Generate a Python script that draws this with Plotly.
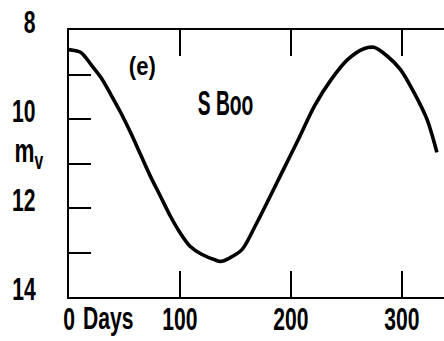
import plotly.graph_objects as go

# Light curve of S Boo (visual magnitude vs days)
days = [0, 2.1, 11.0, 19.9, 28.8, 37.7, 46.7, 55.6, 64.5, 73.4, 82.3, 91.3, 100.2, 109.1, 119.5,
        132.0, 136.5, 144.2, 156.1, 167.7, 179.9, 192.0, 206.7, 221.2, 236.4, 251.3, 265.8,
        274.8, 287.0, 298.8, 310.4, 322.7, 331.6]
mag = [8.44, 8.45, 8.51, 8.78, 9.07, 9.45, 9.86, 10.31, 10.80, 11.29, 11.73, 12.18, 12.56, 12.86, 13.04,
       13.17, 13.20, 13.13, 12.93, 12.41, 11.81, 11.20, 10.46, 9.71, 9.11, 8.66, 8.42,
       8.39, 8.59, 8.89, 9.38, 10.01, 10.75]

x_ticks = [0, 100, 200, 300]
x_tick_text = ["0", "100", "200", "300"]
y_label_vals = [8, 10, 12, 14]
y_label_text = ["8", "10", "12", "14"]
y_minor_vals = [9, 11, 13]
y_right_ticks = [9, 10, 12, 13]

FONT = "Liberation Sans, Arial, sans-serif"
TXT = dict(family=FONT, color="black", weight="bold")

fig = go.Figure()
fig.add_trace(go.Scatter(x=days, y=mag, mode="lines",
                         line=dict(color="black", width=3.6, shape="spline", smoothing=0.8),
                         hoverinfo="skip", showlegend=False))

fig.update_layout(
    width=444, height=341,
    margin=dict(l=65, r=0, t=30, b=44),
    paper_bgcolor="white", plot_bgcolor="white",
    showlegend=False,
    xaxis=dict(range=[0, 338], tickvals=x_ticks, ticktext=x_tick_text,
               showline=True, linecolor="black", linewidth=2, mirror="ticks",
               ticks="inside", ticklen=26, tickwidth=2, tickcolor="black",
               showgrid=False, zeroline=False, ticklabelstandoff=-7,
               tickfont=dict(size=32, **TXT)),
    yaxis=dict(range=[14, 8], tickvals=y_label_vals, ticktext=y_label_text,
               showline=True, linecolor="black", linewidth=2, mirror=False,
               ticks="inside", ticklen=22, tickwidth=2, tickcolor="black",
               minor=dict(tickvals=y_minor_vals, ticks="inside", ticklen=22, tickwidth=2, tickcolor="black"),
               showgrid=False, zeroline=False, ticklabelstandoff=25, ticklabelshift=8,
               ticklabeloverflow="allow",
               tickfont=dict(size=32, **TXT)),
    yaxis2=dict(range=[14, 8], overlaying="y", side="right", anchor="x",
                tickvals=y_right_ticks, showticklabels=False,
                ticks="inside", ticklen=21, tickwidth=2, tickcolor="black",
                showline=False, showgrid=False, zeroline=False),
)

fig.add_annotation(text="Days", xref="x", yref="paper", x=36, y=0, yanchor="top", yshift=-1,
                   showarrow=False, font=dict(size=32, **TXT))
fig.add_annotation(text="m<sub>v</sub>", xref="paper", yref="y", x=0, y=10.75, xanchor="center",
                   xshift=-40, showarrow=False, font=dict(size=34, **TXT))
fig.add_annotation(text="(e)", xref="x", yref="y", x=66.5, y=8.8,
                   showarrow=False, font=dict(size=25, **TXT))
fig.add_annotation(text="S Boo", xref="x", yref="y", x=141, y=9.63,
                   showarrow=False, font=dict(size=35, **TXT))

# The original lettering is a condensed face; no condensed font is installed,
# so squeeze the rendered text horizontally (each text keeps its anchor).
post = """
var gd = document.getElementById('{plot_id}');
var specs = {'(e)': 0.88, 'S Boo': 0.55, 'mv': 0.7};
gd.querySelectorAll('text').forEach(function(t){
  var txt = t.textContent;
  if (!txt) return;
  var s = (txt in specs) ? specs[txt] : 0.66;
  var b = t.getBBox();
  if (!b.width) return;
  var anchor = t.getAttribute('text-anchor') || 'start';
  var px = b.x + b.width / 2;
  if (anchor === 'end') px = b.x + b.width;
  if (anchor === 'start' && t.closest('.ytick')) px = b.x;
  var old = t.getAttribute('transform') || '';
  t.setAttribute('transform', old + ' translate(' + px + ',0) scale(' + s + ',1) translate(' + (-px) + ',0)');
});
"""

fig.write_html("out.html", post_script=post)
